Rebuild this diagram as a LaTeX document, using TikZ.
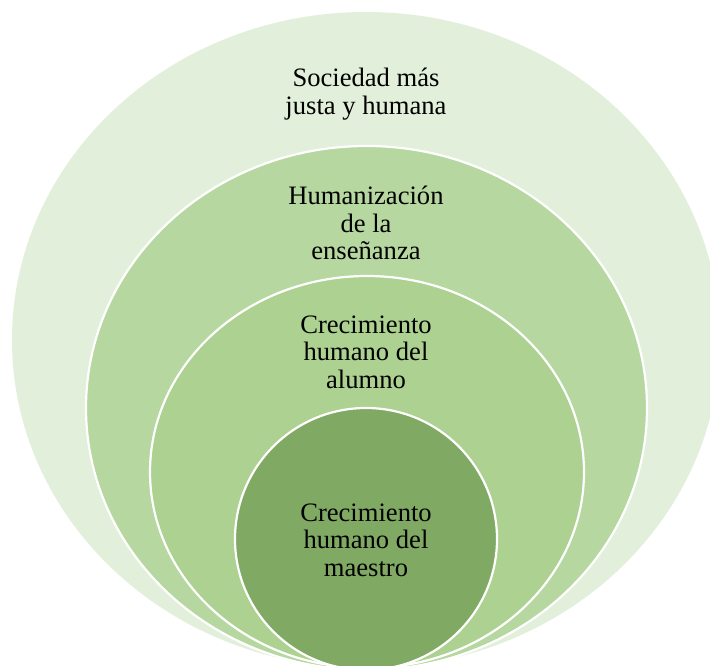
\documentclass[tikz,border=0pt]{standalone}
\usepackage{fontspec}
\setmainfont{Liberation Serif}
\usetikzlibrary{shapes.geometric}
\definecolor{ringA}{HTML}{E2EFDA}
\definecolor{ringB}{HTML}{B6D7A0}
\definecolor{ringC}{HTML}{ACD190}
\definecolor{ringD}{HTML}{80A963}
\begin{document}
\begin{tikzpicture}[x=1pt,y=-1pt,
  ring/.style={ellipse, inner sep=0pt, outer sep=0pt, draw=white, line width=2.2pt},
  lbl/.style={align=center, font=\fontsize{26.6}{27.5}\selectfont, text=black, inner sep=0pt}]
\useasboundingbox (0,0) rectangle (710,666);
\fill[white] (0,0) rectangle (710,666);
\clip (0,0) rectangle (710,666);
\node[ring, fill=ringA, draw=none, minimum width=708pt, minimum height=656pt] (outer) at (366,340) {};
\node[ring, fill=ringB, minimum width=561pt, minimum height=524pt] (second) at (366.5,408) {};
\node[ring, fill=ringC, minimum width=434pt, minimum height=392pt] (third) at (367,472) {};
\node[ring, fill=ringD, minimum width=262pt, minimum height=262pt] (inner) at (366,539) {};
\node[lbl] (tsoc) at (366,94) {Sociedad más\\justa y humana};
\node[lbl] (thum) at (366,223) {Humanización\\de la\\enseñanza};
\node[lbl] (talu) at (366,352) {Crecimiento\\humano del\\alumno};
\node[lbl] (tmae) at (366,540) {Crecimiento\\humano del\\maestro};
\end{tikzpicture}
\end{document}
